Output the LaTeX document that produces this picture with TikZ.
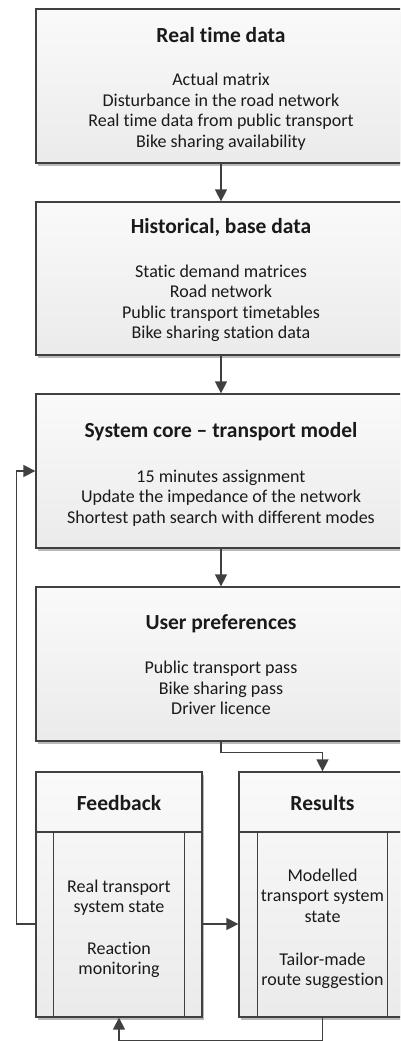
\documentclass[tikz,border=0pt]{standalone}
\usepackage{fontspec}
\setmainfont{Carlito}[RawFeature={-liga;-clig}]
\usetikzlibrary{arrows.meta,shadows,calc}
\definecolor{edge}{HTML}{404040}
\definecolor{txt}{HTML}{1A1A1A}
\begin{document}
\begin{tikzpicture}[x=1bp,y=-1bp,
  box/.style={draw=edge,line width=1.3bp,rectangle,inner sep=0pt,
    top color=gray!4,bottom color=gray!16,
    drop shadow={shadow xshift=2bp,shadow yshift=-2.5bp,fill=gray!55,opacity=1}},
  ttl/.style={font=\bfseries\fontsize{21.5bp}{24bp}\selectfont,text=txt,inner sep=0pt},
  body/.style={font=\fontsize{18bp}{20.5bp}\selectfont,text=txt,align=center,inner sep=0pt},
  arr/.style={draw=edge,line width=1.5bp,-{Triangle[width=12bp,length=12bp]}},
  ln/.style={draw=edge,line width=1.3bp}]
\useasboundingbox (0,0) rectangle (400,1041);
\clip (0,0) rectangle (400,1041);
% main boxes
\node[box,minimum width=370bp,minimum height=154bp] (b1) at (221,86) {};
\node[box,minimum width=370bp,minimum height=153bp] (b2) at (221,278.5) {};
\node[box,minimum width=370bp,minimum height=154bp] (b3) at (221,471) {};
\node[box,minimum width=370bp,minimum height=154bp] (b4) at (221,664) {};
\node[box,minimum width=166bp,minimum height=245bp] (fb) at (119,894.5) {};
\node[box,minimum width=167bp,minimum height=245bp] (res) at (322.5,894.5) {};
% headers of the bottom boxes
\coordinate (hd) at (0,832);
\draw[ln] (fb.west |- hd) -- (fb.east |- hd);
\draw[ln] ($(fb.west |- hd)+(18,0)$) -- ($(fb.south west)+(18,0)$);
\draw[ln] ($(fb.east |- hd)+(-18,0)$) -- ($(fb.south east)+(-18,0)$);
\draw[ln] (res.west |- hd) -- (res.east |- hd);
\draw[ln] ($(res.west |- hd)+(19,0)$) -- ($(res.south west)+(19,0)$);
\draw[ln] ($(res.east |- hd)+(-19,0)$) -- ($(res.south east)+(-19,0)$);
% texts
\node[ttl] (t1) at (221,35) {Real time data};
\node[body,anchor=north] (x1) at (221,73) {Actual matrix\\Disturbance in the road network\\Real time data from public transport\\Bike sharing availability};
\node[ttl] (t2) at (221,227) {Historical, base data};
\node[body,anchor=north] (x2) at (221,264.5) {Static demand matrices\\Road network\\Public transport timetables\\Bike sharing station data};
\node[ttl] (t3) at (221,432) {System core -- transport model};
\node[body,anchor=north] (x3) at (221,469.5) {15 minutes assignment\\Update the impedance of the network\\Shortest path search with different modes};
\node[ttl] (t4) at (221,624) {User preferences};
\node[body,anchor=north] (x4) at (221,661) {Public transport pass\\Bike sharing pass\\Driver licence};
\node[ttl] (t5) at (119,803) {Feedback};
\node[body,anchor=north] (x5a) at (119,879.5) {Real transport\\system state};
\node[body,anchor=north] (x5b) at (119,941.5) {Reaction\\monitoring};
\node[ttl] (t6) at (322.5,803) {Results};
\node[body,anchor=north] (x6a) at (322.5,868.5) {Modelled\\transport system\\state};
\node[body,anchor=north] (x6b) at (322.5,952.5) {Tailor-made\\route suggestion};
% connectors
\coordinate (mid) at (0,924);
\coordinate (low) at (0,1040.6);
\draw[arr] (b1.south) -- (b2.north);
\draw[arr] (b2.south) -- (b3.north);
\draw[arr] (b3.south) -- (b4.north);
\draw[arr] (b4.south) -- ++(0,11) -| (res.north);
\draw[arr] (fb.east |- mid) -- (res.west |- mid);
\draw[arr] (fb.west |- mid) -- ++(-19,0) |- (b3.west);
\draw[arr] (res.south) -- (res.south |- low) -| (fb.south);
\end{tikzpicture}
\end{document}
